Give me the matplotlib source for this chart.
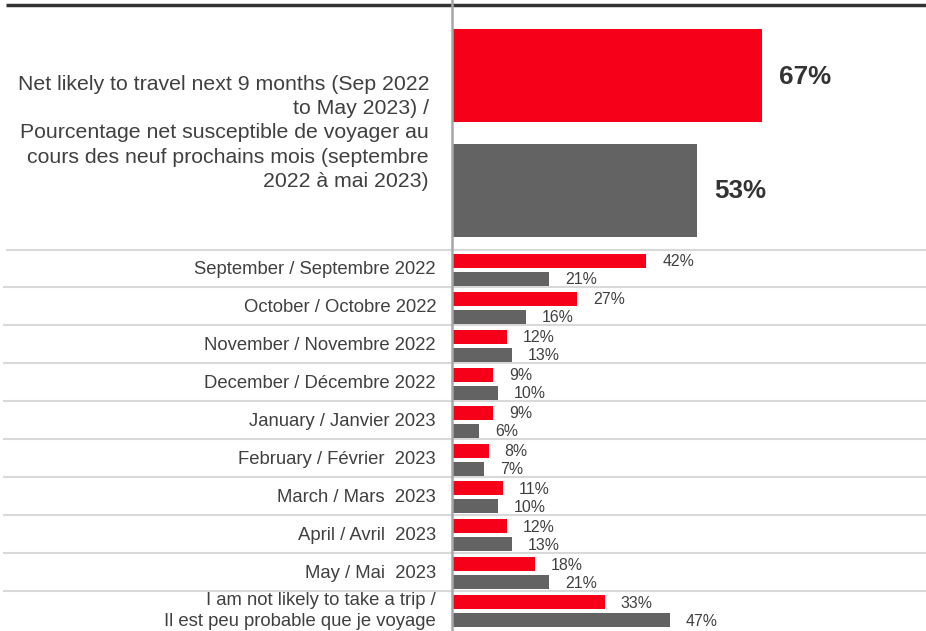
import matplotlib.pyplot as plt

plt.rcParams['font.family'] = ['Liberation Sans', 'DejaVu Sans']

# data
top_label = ("Net likely to travel next 9 months (Sep 2022\n"
             "to May 2023) /\n"
             "Pourcentage net susceptible de voyager au\n"
             "cours des neuf prochains mois (septembre\n"
             "2022 à mai 2023)")
top_red = 67
top_gray = 53

months = ["September / Septembre 2022", "October / Octobre 2022",
          "November / Novembre 2022", "December / Décembre 2022",
          "January / Janvier 2023", "February / Février  2023",
          "March / Mars  2023", "April / Avril  2023", "May / Mai  2023",
          "I am not likely to take a trip /\nIl est peu probable que je voyage"]
red_vals = [42, 27, 12, 9, 9, 8, 11, 12, 18, 33]
gray_vals = [21, 16, 13, 10, 6, 7, 10, 13, 21, 47]

RED = '#F50018'
GRAY = '#636363'
TXT = '#404040'

W, H = 926, 631
AX0 = 451.5          # pixel position of the zero line
SCALE = 4.64         # pixels per percent

fig = plt.figure(figsize=(W / 100, H / 100), dpi=100)
ax = fig.add_axes([0, 0, 1, 1])
ax.set_xlim(-AX0 / SCALE, (W - AX0) / SCALE)
ax.set_ylim(H, 0)
ax.axis('off')

def px(p):
    # horizontal pixel -> percent units
    return (p - AX0) / SCALE

# top block
ax.barh(75.5, top_red, height=93, left=0, color=RED)
ax.barh(190.5, top_gray, height=93, left=0, color=GRAY)
ax.text(top_red + 17 / SCALE, 76.5, f"{top_red}%", fontsize=18.7,
        fontweight='bold', color='#333333', va='center', ha='left')
ax.text(top_gray + 17 / SCALE, 191.5, f"{top_gray}%", fontsize=18.7,
        fontweight='bold', color='#333333', va='center', ha='left')
ax.text(px(429), 133, top_label, fontsize=15.3, color=TXT,
        ha='right', va='center', linespacing=1.34)

# monthly rows
pitch = 37.9
first = 270
bh = 14
for i, (lab, r, g) in enumerate(zip(months, red_vals, gray_vals)):
    c = first + pitch * i
    ax.barh(c - 9, r, height=bh, left=0, color=RED)
    ax.barh(c + 9, g, height=bh, left=0, color=GRAY)
    ax.text(r + 16 / SCALE, c - 8, f"{r}%", fontsize=11.4, color=TXT,
            va='center', ha='left')
    ax.text(g + 16 / SCALE, c + 10, f"{g}%", fontsize=11.4, color=TXT,
            va='center', ha='left')
    ax.text(px(436), c, lab, fontsize=13.3, color=TXT, ha='right',
            va='center', linespacing=1.3)
    x_start = px(6) if i == 0 else px(3)
    ax.plot([x_start, px(W)], [c - 20.5, c - 20.5], color='#d9d9d9',
            lw=1.5, zorder=0, solid_capstyle='butt')

# frame lines
ax.plot([px(6), px(W)], [5, 5], color='#333333', lw=2.5, solid_capstyle='butt')
ax.axvline(0, color='#a6a6a6', lw=1.8, zorder=3)

fig.savefig('out.png', dpi=100)
